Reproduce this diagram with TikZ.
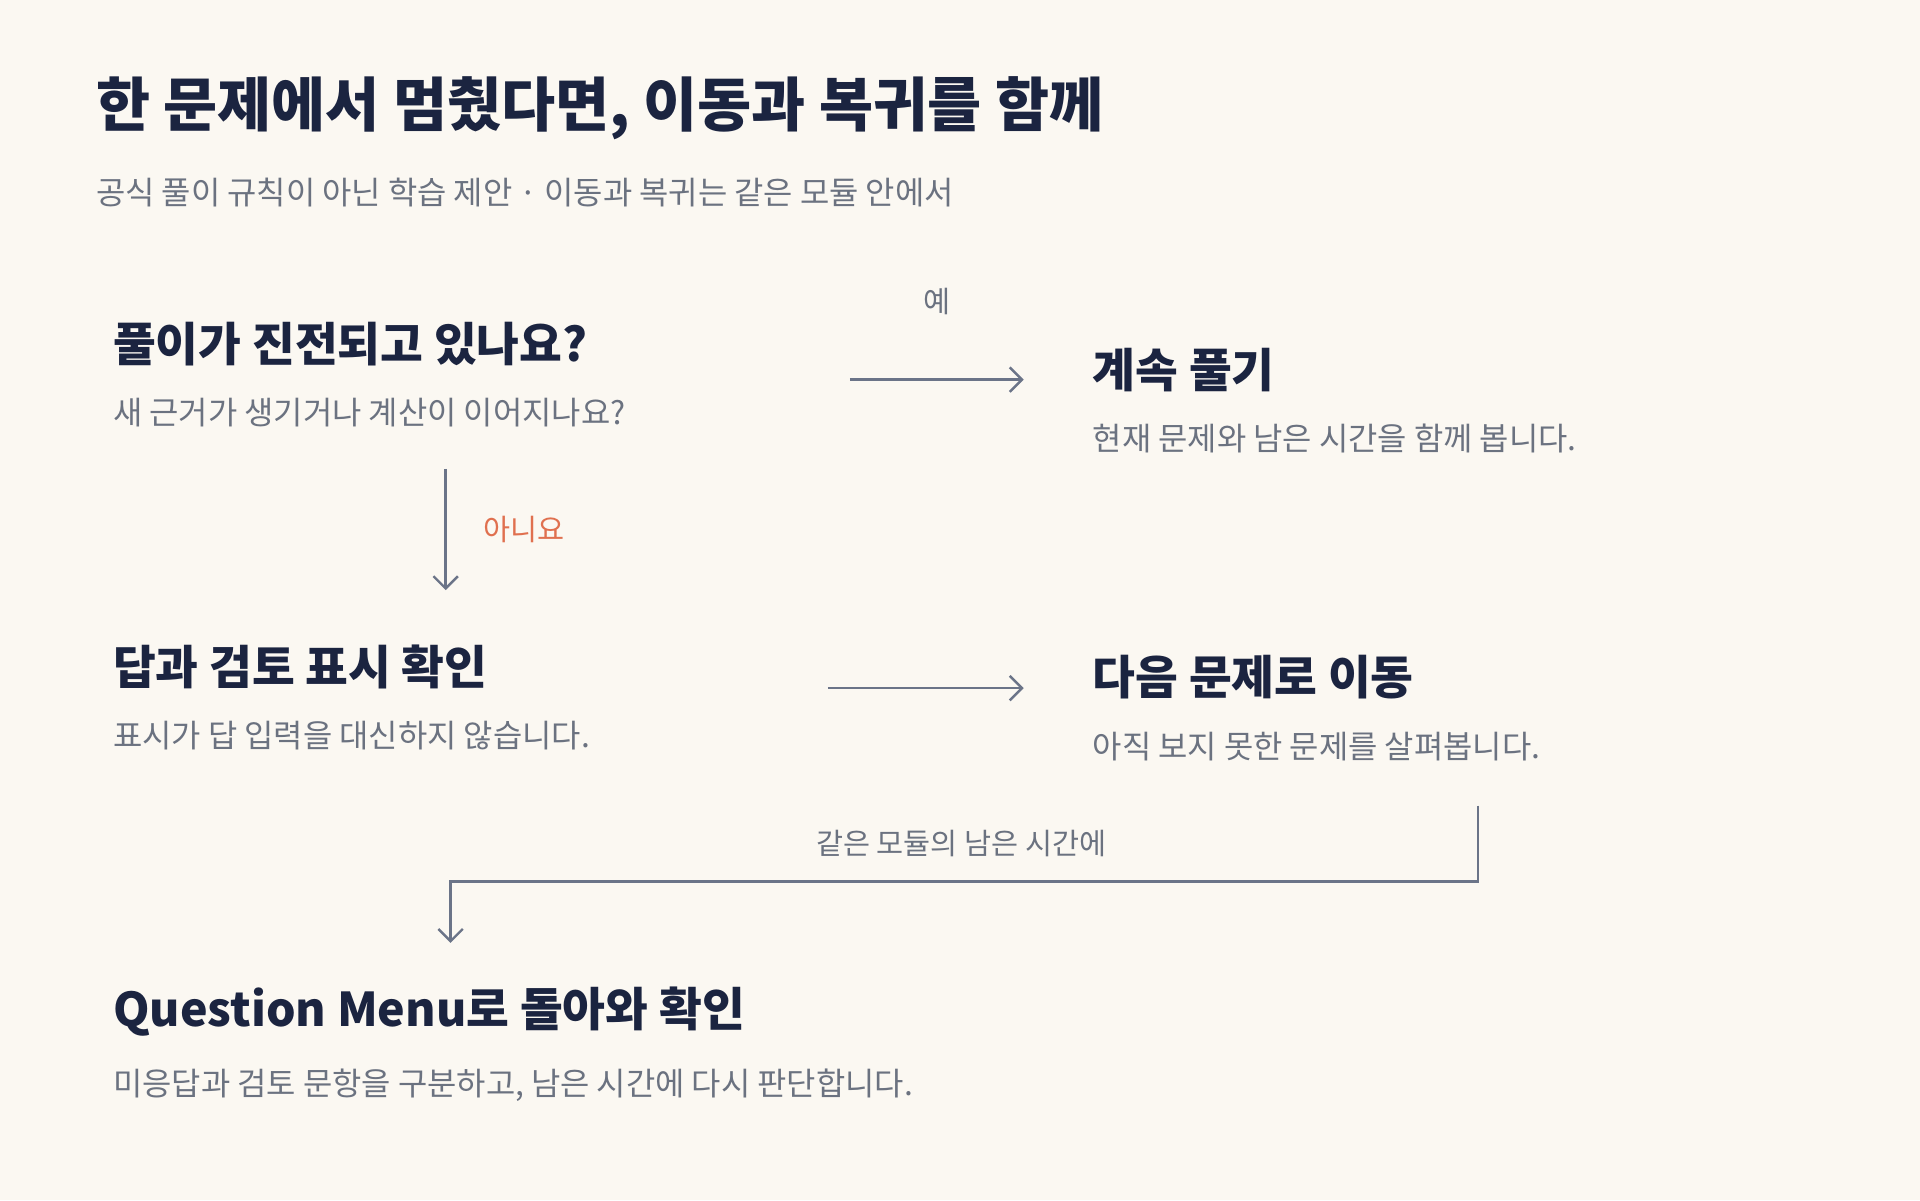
\documentclass[tikz,border=0pt]{standalone}
\usepackage{fontspec}
\setmainfont{Noto Sans CJK KR}
\usepackage{tikz}
\usetikzlibrary{arrows.meta,positioning}
\definecolor{bgcream}{HTML}{FBF8F2}
\definecolor{inknavy}{HTML}{1B2440}
\definecolor{inkgray}{HTML}{6B7280}
\definecolor{linegray}{HTML}{6B7488}
\definecolor{noorange}{HTML}{E0704F}

\begin{document}
\begin{tikzpicture}[x=0.5pt,y=-0.5pt,
		heading/.style={anchor=west,inner sep=0,text=inknavy,font=\fontsize{19}{22}\selectfont\bfseries},
		note/.style={anchor=west,inner sep=0,text=inkgray,font=\fontsize{13}{16}\selectfont},
		flow/.style={draw=linegray,line width=1pt,-{Straight Barb[length=5pt,width=10pt]}},
		tag/.style={inner sep=0,text=inkgray,font=\fontsize{12}{14}\selectfont}]
		\fill[bgcream] (0,0) rectangle (1568,980);
		
		\node[anchor=west,inner sep=0,text=inknavy,font=\fontsize{24}{28}\selectfont\bfseries] (title) at (78,88) {한 문제에서 멈췄다면, 이동과 복귀를 함께};
		\node[note] (subtitle) at (78,157) {공식 풀이 규칙이 아닌 학습 제안 · 이동과 복귀는 같은 모듈 안에서};
		
		\node[heading] (progress) at (92,281) {풀이가 진전되고 있나요?};
		\node[note] (progressnote) at (92,337) {새 근거가 생기거나 계산이 이어지나요?};
		\node[heading] (keepgoing) at (892,302) {계속 풀기};
		\node[note] (keepnote) at (892,358) {현재 문제와 남은 시간을 함께 봅니다.};
		\node[heading] (mark) at (92,545) {답과 검토 표시 확인};
		\node[note] (marknote) at (92,601) {표시가 답 입력을 대신하지 않습니다.};
		\node[heading] (nextq) at (892,553) {다음 문제로 이동};
		\node[note] (nextnote) at (892,610) {아직 보지 못한 문제를 살펴봅니다.};
		\node[heading] (menu) at (92,826) {Question Menu로 돌아와 확인};
		\node[note] (menunote) at (92,886) {미응답과 검토 문항을 구분하고, 남은 시간에 다시 판단합니다.};
		
		% connectors
		\coordinate (yesA) at (694,310);
		\coordinate (yesB) at (836,310);
		\draw[flow] (yesA) -- (yesB) node[tag,midway,above=26pt] (yes) {예};
		\coordinate (noA) at (364,383);
		\coordinate (noB) at (364,482);
		\draw[flow] (noA) -- (noB) node[tag,midway,right=15pt,text=noorange] (no) {아니요};
		\coordinate (moveA) at (676,562);
		\coordinate (moveB) at (836,562);
		\draw[flow] (moveA) -- (moveB);
		\coordinate (backA) at (1207,658);
		\coordinate (backB) at (368,770);
		\draw[flow] (backA) |- (780,720) -| (backB);
		\node[tag] (backtag) at (785,689) {같은 모듈의 남은 시간에};
	\end{tikzpicture}
\end{document}
